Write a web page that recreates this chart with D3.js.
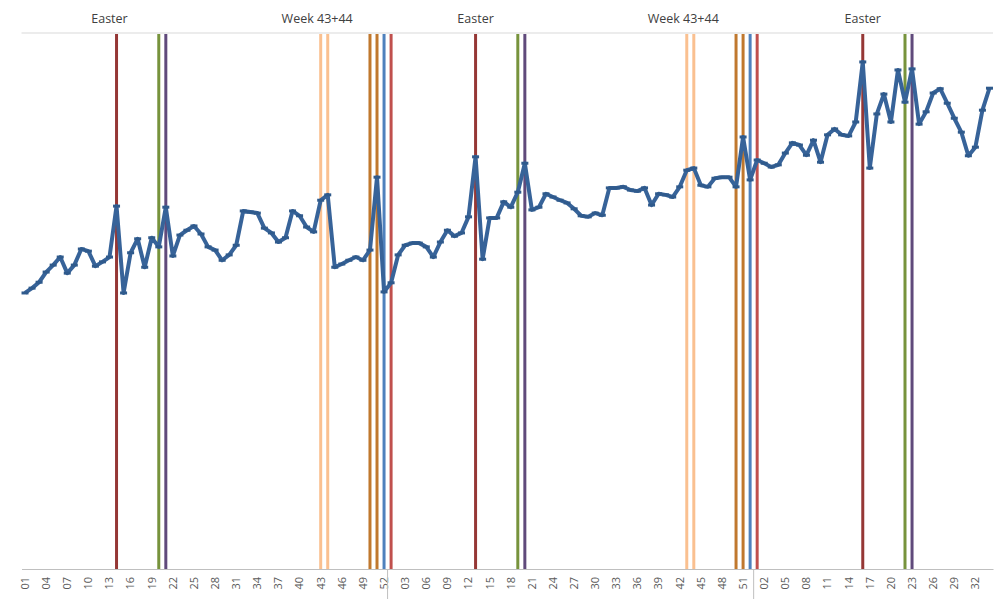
<!DOCTYPE html>
<html>
<head>
<meta charset="utf-8">
<script src="https://cdn.jsdelivr.net/npm/d3@7"></script>
<style>
  body { margin: 0; background: #fff; }
  svg { display: block; font-family: "Open Sans", "Noto Sans", sans-serif; }
</style>
</head>
<body>
<svg id="chart" width="998" height="599"></svg>
<script>
// weekly series, 3 years (52 weeks each), last one stops at week 34
var weeksPerYear = [52, 52, 34]

var sales = [
  51.5, 52.4, 53.5, 55.4, 56.7, 58.2, 55.2, 56.7, 59.7, 59.3, 56.5, 57.3, 58.2,
  67.7, 51.5, 59.0, 61.6, 56.3, 61.8, 60.1, 67.5, 58.4, 62.3, 63.2, 64.0, 62.5,
  60.1, 59.5, 57.6, 58.6, 60.4, 66.8, 66.6, 66.4, 63.6, 62.7, 61.0, 61.8, 66.8,
  65.9, 63.8, 62.9, 68.8, 69.8, 56.3, 56.9, 57.6, 58.2, 57.6, 59.5, 73.1, 51.7,
  53.4, 58.6, 60.4, 60.8, 60.8, 60.1, 58.2, 61.0, 63.2, 62.1, 62.7, 65.7, 76.9,
  57.8, 65.5, 65.5, 68.5, 67.5, 70.3, 75.7, 67.0, 67.5, 70.0, 69.4, 68.8, 68.3,
  67.2, 65.9, 65.7, 66.4, 66.0, 71.1, 71.1, 71.3, 70.7, 70.5, 71.1, 67.9, 70.0,
  69.8, 69.4, 71.3, 74.4, 74.8, 71.6, 71.3, 72.9, 73.1, 73.1, 71.3, 80.6, 72.6,
  76.3, 75.7, 75.0, 75.4, 77.6, 79.5, 79.1, 77.2, 80.0, 75.9, 81.0, 82.1, 81.0,
  80.8, 83.4, 94.6, 74.8, 84.9, 88.6, 83.4, 93.1, 87.1, 93.3, 83.0, 85.3, 88.8,
  89.6, 86.9, 84.1, 81.5, 77.1, 78.7, 85.6, 89.7
]

// marked weeks: year (0-based), week, kind
var eventYear = [0, 0, 0, 0, 0, 0, 0, 0, 1, 1, 1, 1, 1, 1, 1, 1, 1, 2, 2, 2, 2]
var eventWeek = [14, 20, 21, 43, 44, 50, 51, 52, 1, 13, 19, 20, 43, 44, 50, 51, 52, 1, 16, 22, 23]
var eventKind = ["easter", "green", "purple", "autumn", "autumn", "brown", "brown", "blue", "red",
                 "easter", "green", "purple", "autumn", "autumn", "brown", "brown", "blue", "red",
                 "easter", "green", "purple"]

var noteText = ["Easter", "Week 43+44", "Easter", "Week 43+44", "Easter"]
var noteYear = [0, 0, 1, 1, 2]
var noteWeek = [13, 42.5, 13, 42.5, 16]

var kindColor = {
  easter: "#953735", green: "#77933c", purple: "#604a7b", autumn: "#fac090",
  brown: "#c0782e", blue: "#4f81bd", red: "#c0504d"
}

// categories
var cats = []
weeksPerYear.forEach(function (n, yr) {
  for (var w = 1; w <= n; w++) cats.push({ year: yr, week: w })
})
var data = cats.map(function (c, i) { return { i: i, year: c.year, week: c.week, v: sales[i] } })

function catIndex(yr, wk) {
  var idx = 0
  for (var k = 0; k < yr; k++) idx += weeksPerYear[k]
  return idx + wk - 1
}

var plotLeft = 21.5, plotRight = 993, plotTop = 33, plotBottom = 569

var svg = d3.select("#chart")

var x = d3.scaleBand().domain(d3.range(cats.length)).range([plotLeft, plotRight]).padding(0)
var cx = function (i) { return x(i) + x.bandwidth() / 2 }
var y = d3.scaleLinear().domain([0, 100]).range([plotBottom, plotTop])

// top grid line
svg.append("line")
  .attr("x1", plotLeft).attr("x2", plotRight)
  .attr("y1", y(100)).attr("y2", y(100))
  .attr("stroke", "#d9d9d9").attr("stroke-width", 1.2)

// event lines
svg.append("g").selectAll("line")
  .data(eventWeek)
  .enter()
  .append("line")
  .attr("x1", (d, k) => cx(catIndex(eventYear[k], d)))
  .attr("x2", (d, k) => cx(catIndex(eventYear[k], d)))
  .attr("y1", y(100) + 1)
  .attr("y2", plotBottom)
  .attr("stroke", (d, k) => kindColor[eventKind[k]])
  .attr("stroke-width", 3)

// notes above
svg.append("g").selectAll("text")
  .data(noteText)
  .enter()
  .append("text")
  .attr("x", (d, k) => x(catIndex(noteYear[k], Math.floor(noteWeek[k]))) + x.bandwidth() * (noteWeek[k] % 1 + 0.5))
  .attr("y", 23)
  .attr("text-anchor", "middle")
  .attr("font-size", 12.5)
  .attr("fill", "#404040")
  .text(d => d)

// x axis
var xAxis = d3.axisBottom(x)
  .tickValues(d3.range(0, cats.length, 3))
  .tickFormat(i => d3.format("02d")(cats[i].week))
  .tickSize(0)
  .tickPadding(0)

var gx = svg.append("g")
  .attr("transform", "translate(0," + plotBottom + ")")
  .call(xAxis)
gx.select(".domain").attr("stroke", "#bfbfbf").attr("stroke-width", 1.2)
gx.selectAll("text")
  .attr("transform", "rotate(-90)")
  .attr("x", -8)
  .attr("y", 0)
  .attr("dy", "0.35em")
  .attr("text-anchor", "end")
  .attr("font-size", 11)
  .attr("font-family", "'Open Sans', sans-serif")
  .attr("fill", "#595959")

// year separators under axis
svg.append("g").selectAll("line")
  .data([catIndex(1, 1), catIndex(2, 1)])
  .enter()
  .append("line")
  .attr("x1", d => x(d)).attr("x2", d => x(d))
  .attr("y1", plotBottom).attr("y2", 599)
  .attr("stroke", "#bfbfbf").attr("stroke-width", 1)

// series line
var line = d3.line().x(d => cx(d.i)).y(d => y(d.v))
svg.append("path")
  .datum(data)
  .attr("d", line)
  .attr("fill", "none")
  .attr("stroke", "#376399")
  .attr("stroke-width", 4)
  .attr("stroke-linejoin", "round")

// dash markers
svg.append("g").selectAll("rect")
  .data(data)
  .enter()
  .append("rect")
  .attr("x", d => cx(d.i) - 3.5)
  .attr("y", d => y(d.v) - 1.5)
  .attr("width", 7)
  .attr("height", 3)
  .attr("fill", "#2f5a8c")
</script>
</body>
</html>
